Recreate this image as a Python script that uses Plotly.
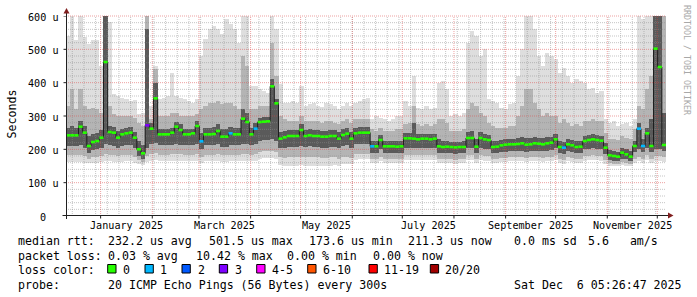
import pandas as pd
import plotly.graph_objects as go

# ---------------- data ----------------
START = pd.Timestamp("2024-12-11 05:26:47")
END = pd.Timestamp("2025-12-06 05:26:47")
STEP_HOURS = 60  # one consolidated RRD row = 2.5 days

median_us = [
    242, 242, 242, 268, 250, 210, 222, 225, 235, 462, 252, 250,
    235, 245, 248, 250, 235, 200, 188, 272, 262, 353, 245, 245,
    245, 250, 268, 258, 245, 245, 248, 270, 224, 245, 245, 246,
    255, 238, 238, 248, 245, 245, 292, 282, 245, 262, 282, 283,
    284, 389, 338, 232, 236, 240, 240, 240, 258, 240, 242, 240,
    240, 238, 238, 240, 240, 232, 243, 247, 232, 248, 250, 250,
    250, 209, 209, 228, 209, 209, 209, 208, 209, 233, 233, 232,
    230, 232, 232, 230, 232, 209, 207, 208, 207, 206, 207, 207,
    234, 234, 208, 234, 230, 228, 207, 208, 212, 214, 215, 215,
    216, 218, 214, 215, 218, 217, 215, 218, 220, 230, 207, 205,
    215, 212, 207, 208, 225, 228, 230, 228, 226, 205, 182, 180,
    178, 190, 185, 178, 210, 262, 210, 248, 210, 502, 447, 213,
]

# loss category index per row (0 -> "0", 1 -> "1", 3 -> "3" ...)
loss_cat = [
    0, 0, 0, 0, 0, 0, 0, 0, 0, 0, 0, 0,
    0, 0, 0, 0, 0, 0, 0, 3, 0, 0, 0, 0,
    0, 0, 0, 0, 0, 0, 0, 0, 1, 0, 0, 0,
    0, 0, 0, 1, 0, 0, 0, 0, 0, 1, 0, 0,
    0, 0, 0, 0, 0, 0, 0, 0, 0, 0, 0, 0,
    0, 0, 0, 0, 0, 0, 0, 0, 0, 0, 0, 0,
    0, 1, 0, 0, 0, 0, 0, 0, 0, 0, 0, 0,
    0, 0, 0, 0, 0, 0, 0, 0, 0, 0, 0, 0,
    0, 0, 0, 0, 0, 0, 0, 0, 0, 0, 0, 0,
    0, 0, 0, 0, 0, 0, 0, 0, 0, 0, 0, 1,
    0, 0, 0, 0, 0, 0, 0, 0, 0, 0, 0, 0,
    0, 0, 0, 0, 0, 1, 1, 0, 0, 0, 0, 0,
]

smoke_max = [
    540, 600, 527, 600, 537, 515, 527, 527, 450, 600, 582, 365,
    360, 355, 350, 345, 347, 307, 310, 600, 330, 450, 350, 355,
    360, 430, 360, 355, 350, 345, 340, 350, 480, 530, 560, 570,
    560, 545, 590, 575, 560, 520, 600, 600, 390, 390, 380, 375,
    370, 600, 560, 397, 340, 340, 345, 340, 390, 330, 335, 340,
    330, 327, 340, 335, 330, 320, 330, 340, 330, 340, 345, 350,
    355, 290, 300, 295, 290, 285, 290, 300, 300, 345, 330, 420,
    325, 320, 330, 320, 325, 400, 405, 380, 300, 305, 300, 310,
    520, 555, 540, 480, 500, 350, 345, 340, 325, 320, 335, 340,
    420, 500, 600, 600, 560, 480, 450, 490, 480, 470, 430, 445,
    420, 400, 410, 405, 400, 380, 385, 370, 375, 290, 280, 285,
    270, 275, 280, 270, 290, 600, 590, 600, 600, 600, 600, 600,
]

mid_hi = [
    330, 380, 320, 380, 330, 320, 325, 320, 310, 560, 330, 305,
    300, 300, 300, 300, 295, 280, 270, 600, 290, 440, 300, 300,
    300, 310, 310, 300, 300, 300, 300, 305, 320, 330, 340, 340,
    345, 335, 340, 340, 330, 320, 480, 450, 320, 320, 330, 330,
    330, 520, 420, 300, 290, 285, 285, 285, 300, 285, 285, 285,
    285, 280, 285, 285, 280, 275, 285, 290, 280, 290, 290, 290,
    290, 260, 255, 265, 255, 255, 255, 260, 260, 275, 280, 330,
    275, 270, 275, 270, 275, 290, 290, 280, 255, 255, 255, 260,
    320, 340, 330, 310, 300, 280, 270, 265, 265, 265, 270, 270,
    300, 330, 380, 380, 340, 320, 300, 310, 300, 300, 280, 290,
    280, 270, 275, 270, 285, 285, 290, 285, 285, 250, 230, 230,
    228, 240, 235, 230, 260, 330, 320, 380, 420, 600, 600, 600,
]

core_hi = [
    265, 270, 265, 285, 270, 240, 245, 250, 258, 600, 270, 268,
    255, 262, 265, 266, 252, 225, 212, 560, 280, 400, 260, 260,
    260, 265, 282, 275, 260, 260, 262, 285, 250, 265, 265, 268,
    275, 260, 260, 268, 265, 265, 320, 310, 265, 280, 295, 296,
    297, 410, 350, 252, 255, 258, 258, 258, 275, 258, 260, 258,
    258, 255, 255, 258, 258, 252, 260, 265, 252, 265, 267, 267,
    267, 226, 226, 242, 226, 226, 226, 226, 226, 248, 248, 280,
    245, 247, 247, 245, 247, 230, 224, 224, 223, 222, 223, 224,
    252, 255, 230, 252, 245, 243, 224, 225, 229, 231, 232, 232,
    233, 236, 233, 234, 237, 235, 233, 236, 238, 245, 224, 223,
    231, 229, 224, 225, 240, 243, 245, 243, 240, 219, 197, 195,
    193, 204, 200, 194, 226, 280, 231, 265, 290, 600, 600, 310,
]

core_lo = [
    210, 210, 210, 212, 205, 190, 198, 200, 205, 215, 212, 210,
    205, 210, 212, 212, 205, 180, 170, 205, 215, 220, 212, 212,
    212, 214, 215, 214, 212, 212, 212, 215, 200, 212, 212, 212,
    215, 208, 208, 212, 212, 212, 215, 215, 212, 215, 225, 228,
    228, 230, 225, 205, 205, 208, 208, 208, 210, 208, 210, 208,
    208, 205, 205, 208, 208, 203, 210, 212, 205, 215, 217, 217,
    217, 190, 190, 200, 190, 190, 190, 190, 190, 205, 205, 205,
    203, 205, 205, 203, 205, 190, 188, 188, 188, 186, 188, 188,
    205, 205, 188, 205, 202, 200, 188, 190, 192, 193, 195, 195,
    195, 196, 193, 194, 196, 195, 194, 196, 198, 205, 188, 186,
    195, 192, 188, 189, 200, 202, 205, 202, 200, 185, 168, 166,
    164, 172, 170, 164, 192, 200, 192, 205, 192, 200, 200, 195,
]

mid_lo = [
    182, 182, 182, 182, 180, 172, 176, 178, 180, 185, 184, 183,
    180, 182, 183, 183, 178, 168, 162, 180, 186, 188, 184, 184,
    184, 185, 186, 185, 184, 184, 184, 186, 178, 184, 184, 184,
    186, 182, 182, 184, 184, 184, 186, 186, 184, 186, 192, 194,
    194, 195, 192, 176, 174, 176, 176, 176, 178, 176, 177, 176,
    176, 174, 174, 176, 176, 172, 177, 178, 175, 185, 187, 187,
    187, 172, 172, 178, 172, 172, 172, 172, 172, 183, 183, 183,
    182, 183, 183, 182, 183, 172, 170, 170, 170, 169, 170, 170,
    182, 182, 170, 182, 180, 179, 170, 172, 174, 175, 176, 176,
    176, 177, 175, 176, 177, 176, 175, 177, 178, 183, 170, 168,
    176, 174, 170, 171, 180, 181, 183, 181, 180, 168, 158, 157,
    156, 162, 160, 156, 172, 178, 172, 183, 172, 180, 180, 176,
]

smoke_min = [
    162, 162, 162, 162, 160, 158, 160, 160, 162, 165, 164, 163,
    162, 163, 164, 164, 160, 155, 152, 162, 165, 168, 165, 165,
    165, 165, 166, 165, 165, 165, 165, 166, 160, 165, 165, 165,
    166, 163, 163, 165, 165, 165, 166, 166, 165, 166, 172, 174,
    174, 175, 172, 152, 150, 150, 150, 150, 152, 150, 150, 150,
    150, 150, 150, 150, 152, 150, 155, 157, 157, 168, 170, 170,
    170, 160, 160, 165, 160, 160, 160, 160, 160, 168, 168, 168,
    167, 168, 168, 167, 168, 160, 158, 158, 158, 157, 158, 158,
    167, 167, 158, 167, 165, 164, 158, 160, 162, 163, 164, 164,
    164, 165, 163, 164, 165, 164, 163, 165, 166, 168, 158, 156,
    164, 162, 158, 159, 166, 167, 168, 167, 166, 156, 150, 150,
    150, 152, 150, 150, 160, 165, 160, 168, 160, 165, 165, 162,
]

y_ticks = [0, 100, 200, 300, 400, 500, 600]
y_tick_labels = ["0  ", "100 u", "200 u", "300 u", "400 u", "500 u", "600 u"]
x_label_months = ["2025-01-01", "2025-03-01", "2025-05-01", "2025-07-01", "2025-09-01", "2025-11-01"]
x_label_text = ["January 2025", "March 2025", "May 2025", "July 2025", "September 2025", "November 2025"]

loss_labels = ["0", "1", "2", "3", "4-5", "6-10", "11-19", "20/20"]
loss_colors = ["#26ff00", "#00b8ff", "#0059ff", "#7e00ff", "#ff00ff", "#ff5500", "#ff0000", "#a10000"]

median_stats = ["median rtt:", "232.2 us avg", "501.5 us max", "173.6 us min", "211.3 us now", "0.0 ms sd", "5.6   am/s"]
loss_stats = ["packet loss:", "0.03 % avg", "10.42 % max", "0.00 % min", "0.00 % now"]
probe_text = ["probe:", "20 ICMP Echo Pings (56 Bytes) every 300s", "Sat Dec  6 05:26:47 2025"]
y_title = "Seconds"
credit = "RRDTOOL / TOBI OETIKER"

n = len(median_us)
for arr in (loss_cat, smoke_max, mid_hi, core_hi, core_lo, mid_lo, smoke_min):
    assert len(arr) == n

# ---------------- geometry ----------------
W, H = 697, 297
L, R, T, B = 66, 31, 16, 81
PW, PH = W - L - R, H - T - B
FONT = "DejaVu Sans Mono"


def px(x):
    return (x - L) / PW


def py(y):
    return (T + PH - y) / PH


def nb(s):
    return s.replace(" ", "\u00a0")


step = pd.Timedelta(hours=STEP_HOURS)
starts = [START + i * step for i in range(n)]
ends = [s + step for s in starts]
centers = [s + step / 2 for s in starts]
wms = step.total_seconds() * 1000 * 1.04

fig = go.Figure()


def band(lo, hi, color):
    fig.add_trace(go.Bar(
        x=centers, y=[h - l for l, h in zip(lo, hi)], base=lo, width=wms,
        marker=dict(color=color, line=dict(width=0)),
        hoverinfo="skip", showlegend=False))


band(smoke_min, smoke_max, "#dedede")
band(mid_lo, mid_hi, "#b4b4b4")
band(core_lo, core_hi, "#5a5a5a")

# ---------------- grid ----------------
minor_h = [v for v in range(20, 600, 20) if v % 100]
major_h = [v for v in range(100, 600, 100)]
weeks = pd.date_range("2024-12-15", END, freq="7D")
months = pd.date_range("2025-01-01", END, freq="MS")


def hlines(vals, color):
    xs, ys = [], []
    for v in vals:
        xs += [START, END, None]
        ys += [v, v, None]
    fig.add_trace(go.Scatter(x=xs, y=ys, mode="lines", hoverinfo="skip", showlegend=False,
                             line=dict(color=color, width=1, dash="1px,1px")))


def vlines(dates, color):
    xs, ys = [], []
    for d in dates:
        xs += [d, d, None]
        ys += [0, 600, None]
    fig.add_trace(go.Scatter(x=xs, y=ys, mode="lines", hoverinfo="skip", showlegend=False,
                             line=dict(color=color, width=1, dash="1px,1px")))


GRID = "rgba(140,140,140,0.5)"
MGRID = "rgba(222,70,70,0.5)"
hlines(minor_h, GRID)
vlines(weeks, GRID)
hlines(major_h, MGRID)
vlines(months, MGRID)

# ---------------- median ----------------
fig.add_trace(go.Scatter(x=starts + [ends[-1]], y=median_us + [median_us[-1]], mode="lines",
                         line=dict(shape="hv", color="#1e1e1e", width=1),
                         hoverinfo="skip", showlegend=False))
for c, col in enumerate(loss_colors):
    xs, ys = [], []
    for i in range(n):
        if loss_cat[i] == c:
            xs += [starts[i], ends[i], None]
            ys += [median_us[i], median_us[i], None]
    if xs:
        fig.add_trace(go.Scatter(x=xs, y=ys, mode="lines", line=dict(color=col, width=2.6),
                                 hoverinfo="skip", showlegend=False))

# ---------------- decorations ----------------
shapes = []
AX = "#202020"
ARROW = "#801f1f"
shapes.append(dict(type="line", xref="paper", yref="paper", x0=0, x1=1, y0=1, y1=1,
                   line=dict(color=MGRID, width=1, dash="1px,1px"), layer="above"))
shapes.append(dict(type="line", xref="paper", yref="paper", x0=px(62.5), x1=px(668), y0=py(215.5), y1=py(215.5),
                   line=dict(color=AX, width=1)))
shapes.append(dict(type="line", xref="paper", yref="paper", x0=px(66.5), x1=px(66.5), y0=py(219), y1=py(13),
                   line=dict(color=AX, width=1)))
shapes.append(dict(type="path", xref="paper", yref="paper",
                   path=f"M {px(66.5)} {py(8)} L {px(63.5)} {py(13.5)} L {px(69.5)} {py(13.5)} Z",
                   fillcolor=ARROW, line=dict(width=0)))
shapes.append(dict(type="path", xref="paper", yref="paper",
                   path=f"M {px(673.5)} {py(215.5)} L {px(668)} {py(212.5)} L {px(668)} {py(218.5)} Z",
                   fillcolor=ARROW, line=dict(width=0)))
for v in y_ticks[1:]:
    shapes.append(dict(type="line", xref="paper", yref="y", x0=px(63.5), x1=px(66.5), y0=v, y1=v,
                       line=dict(color=AX, width=1)))
for m in months:
    shapes.append(dict(type="line", xref="x", yref="paper", x0=m, x1=m, y0=py(215.5), y1=py(218.5),
                       line=dict(color=AX, width=1)))

box_x = [107.7, 145, 182, 219.3, 256.7, 307.7, 369, 430.3]
for bx, col in zip(box_x, loss_colors):
    shapes.append(dict(type="rect", xref="paper", yref="paper", x0=px(bx), x1=px(bx + 8.3),
                       y0=py(273), y1=py(264.5), fillcolor=col, line=dict(color="#000000", width=1)))

ann = []


def text(x, y, s, size=11.6, anchor="left", color="#000000", angle=0, xref="paper", yref="paper", yshift=0):
    ann.append(dict(x=x, y=y, xref=xref, yref=yref, text=nb(s), showarrow=False, xanchor=anchor,
                    yanchor="middle", textangle=angle, yshift=yshift,
                    font=dict(family=FONT, size=size, color=color)))


for v, lab in zip(y_ticks, y_tick_labels):
    text(px(60), v, lab, size=10.15, anchor="right", yref="y", yshift=-1)

for m, lab in zip(x_label_months, x_label_text):
    m0 = pd.Timestamp(m)
    m1 = m0 + pd.offsets.MonthBegin(1)
    text(m0 + (m1 - m0) / 2, py(225.5), lab, size=10.15, anchor="center", xref="x")

text(px(11.5), py(114), y_title, angle=-90, anchor="center")
text(px(687), py(60), credit, size=8.3, anchor="center", color="#a8a8a8", angle=90)

med_x = [17, 106.7, 207.7, 307.7, 407.3, 513.3, 586.7]
for x, s in zip(med_x, median_stats):
    text(px(x - 1), py(241.3), s)
loss_x = [17, 106.7, 195, 286, 371.7]
for x, s in zip(loss_x, loss_stats):
    text(px(x - 1), py(256.3), s)
text(px(16), py(270.3), "loss color:")
lab_x = [121.7, 159, 196.7, 234, 270.7, 321.7, 383.3, 444.3]
for x, s in zip(lab_x, loss_labels):
    text(px(x - 1), py(270.3), s)
probe_x = [17, 106.7, 513.3]
for x, s in zip(probe_x, probe_text):
    text(px(x - 1), py(285), s)

fig.update_layout(
    width=W, height=H, margin=dict(l=L, r=R, t=T, b=B),
    paper_bgcolor="#ffffff", plot_bgcolor="#ffffff",
    barmode="overlay", bargap=0, showlegend=False,
    xaxis=dict(type="date", range=[START, END], visible=False, fixedrange=True),
    yaxis=dict(range=[0, 600], visible=False, fixedrange=True),
    shapes=shapes, annotations=ann,
)

fig.write_html("out.html")
